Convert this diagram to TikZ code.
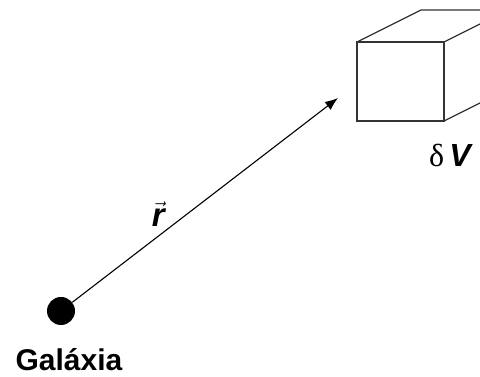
\documentclass[tikz,border=0pt]{standalone}
\usepackage{fontspec}
\setmainfont{Liberation Sans}
\newfontfamily\serifsym{Liberation Serif}
\usetikzlibrary{arrows.meta}
\begin{document}
\begin{tikzpicture}[x=1pt,y=1pt,
  edge/.style={draw=black!80, line width=1.3pt, line join=miter},
  vec/.style={draw=black, line width=1.1pt, -{Latex[length=13pt,width=10pt]}},
  lbl/.style={inner sep=0pt, text=black}]
\useasboundingbox (0,0) rectangle (480,377);
\clip (0,0) rectangle (480,377);
% cube
\coordinate (fbl) at (357,256);
\coordinate (fbr) at (444,256);
\coordinate (ftr) at (444,335);
\coordinate (ftl) at (357,335);
\coordinate (btl) at (421,367);
\coordinate (btr) at (508,367);
\coordinate (bbr) at (508,288);
\draw[edge] (fbl) -- (fbr) -- (ftr) -- (ftl) -- cycle;
\draw[edge] (ftl) -- (btl) -- (btr) -- (bbr) -- (fbr);
\draw[edge] (ftr) -- (btr);
% galaxy
\node[circle, fill=black, minimum size=28pt, inner sep=0pt] (gal) at (61,66) {};
\coordinate (tip) at (338,279);
\draw[vec] (gal) -- (tip);
\node[lbl, anchor=base, font=\bfseries\fontsize{30}{30}\selectfont] (galname) at (69,6) {Galáxia};
\node[lbl, anchor=base, font=\fontsize{33}{33}\selectfont] (rlab) at (159,150) {$\vec{\textbf{\textit{r}}}$};
\node[lbl, anchor=base, font=\fontsize{32}{32}\selectfont] (dv) at (451,210) {{\serifsym δ}\,\textbf{\textit{V}}};
\end{tikzpicture}
\end{document}
